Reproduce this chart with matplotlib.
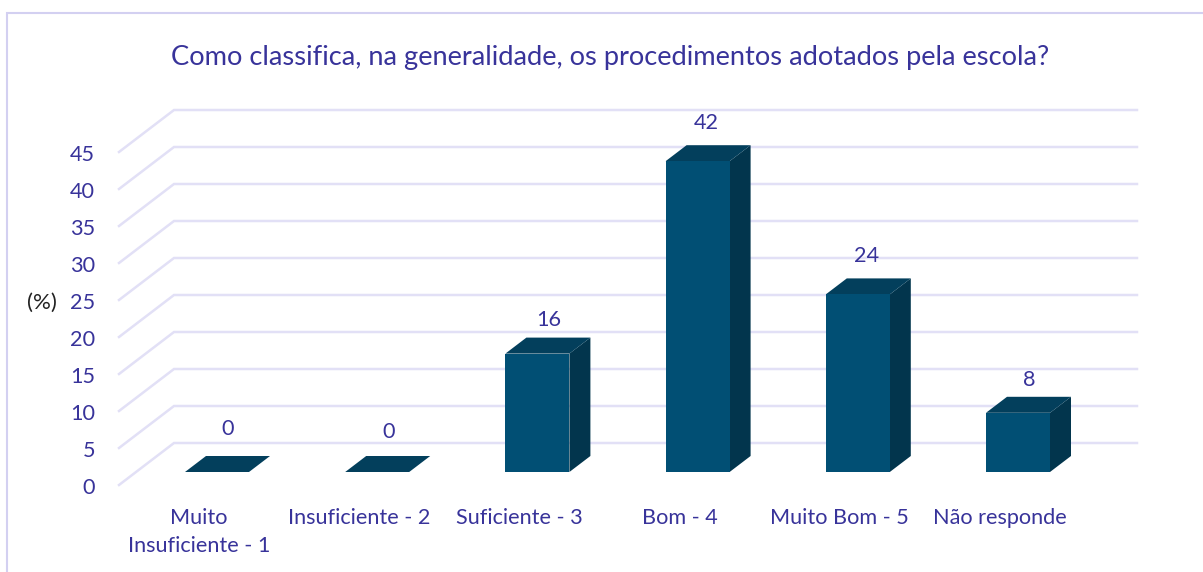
import matplotlib
matplotlib.use('Agg')
import matplotlib.pyplot as plt
from matplotlib.patches import Polygon

categories = ['Muito\nInsuficiente - 1', 'Insuficiente - 2', 'Suficiente - 3',
              'Bom - 4', 'Muito Bom - 5', 'Não responde']
values = [0, 0, 16, 42, 24, 8]
yticks = [0, 5, 10, 15, 20, 25, 30, 35, 40, 45]
title = 'Como classifica, na generalidade, os procedimentos adotados pela escola?'

W, H = 1203, 572
STEP = 160.2      # px between categories
UNIT = 7.4        # px per 1 %
X0, Y0 = 217, 472  # px of first bar centre / bar base
TXT = '#38339A'
GRID = '#E2E0F6'

# the value labels don't sit at a regular distance from the bars (px)
label_gap = [27, 24, 18, 22.5, 22, 17]
label_shift = [11, 11, 11, 8.5, 8.5, 11]

plt.rcParams['font.family'] = ['Lato', 'DejaVu Sans']

fig = plt.figure(figsize=(W / 100, H / 100), dpi=100)
ax = fig.add_axes([0, 0, 1, 1])
ax.set_xlim(-X0 / STEP, (W - X0) / STEP)
ax.set_ylim((Y0 - H) / UNIT, Y0 / UNIT)
ax.axis('off')


def dx(px):
    return px / STEP


def dy(px):
    return px / UNIT


# frame of the chart area (runs off at the bottom and right)
ax.plot([dx(7 - X0), dx(7 - X0), dx(W - X0)],
        [dy(Y0 - H), dy(Y0 - 13.5), dy(Y0 - 13.5)],
        color='#D3D0F1', lw=1.5, solid_joinstyle='miter')

# floor/wall grid, front plane sits 13 px below the bars' base
wall_l, wall_r = dx(119 - X0), dx(174 - X0)
grid_r = dx(1137 - X0)
for v in yticks:
    front = v + dy(-13)
    back = front + dy(42)
    ax.plot([wall_l, wall_r, grid_r], [front, back, back], color=GRID, lw=1.8,
            zorder=1, solid_joinstyle='miter')
    ax.text(dx(95 - X0), front - dy(3), str(v), color=TXT, fontsize=15.6,
            ha='right', va='center')

# 3d bars
half = dx(32)
ox, oy = dx(21), dy(16)
for i, v in enumerate(values):
    l, r = i - half, i + half
    ax.add_patch(Polygon([(r, 0), (r + ox, oy), (r + ox, v + oy), (r, v)],
                         color='#02354D', lw=0, zorder=2))
    ax.add_patch(Polygon([(l, v), (l + ox, v + oy), (r + ox, v + oy), (r, v)],
                         color='#033F5C', lw=0, zorder=2))
    ax.bar(i, v, width=2 * half, color='#014F74', lw=0, zorder=3)
    ax.text(i + dx(label_shift[i]), v + oy + dy(label_gap[i]), str(v),
            color=TXT, fontsize=15.6, ha='center', va='center', zorder=4)

for i, c in enumerate(categories):
    ax.text(i - dx(18), dy(Y0 - 508.5), c, color=TXT, fontsize=15.6, ha='center',
            va='top', linespacing=1.47)

ax.text(dx(42 - X0), dy(Y0 - 303), '(%)', color='#222222', fontsize=16,
        ha='center', va='center')
ax.text(dx(610 - X0), dy(Y0 - 57), title, color=TXT, fontsize=19.65,
        ha='center', va='center')

fig.savefig('out.png', dpi=100)
